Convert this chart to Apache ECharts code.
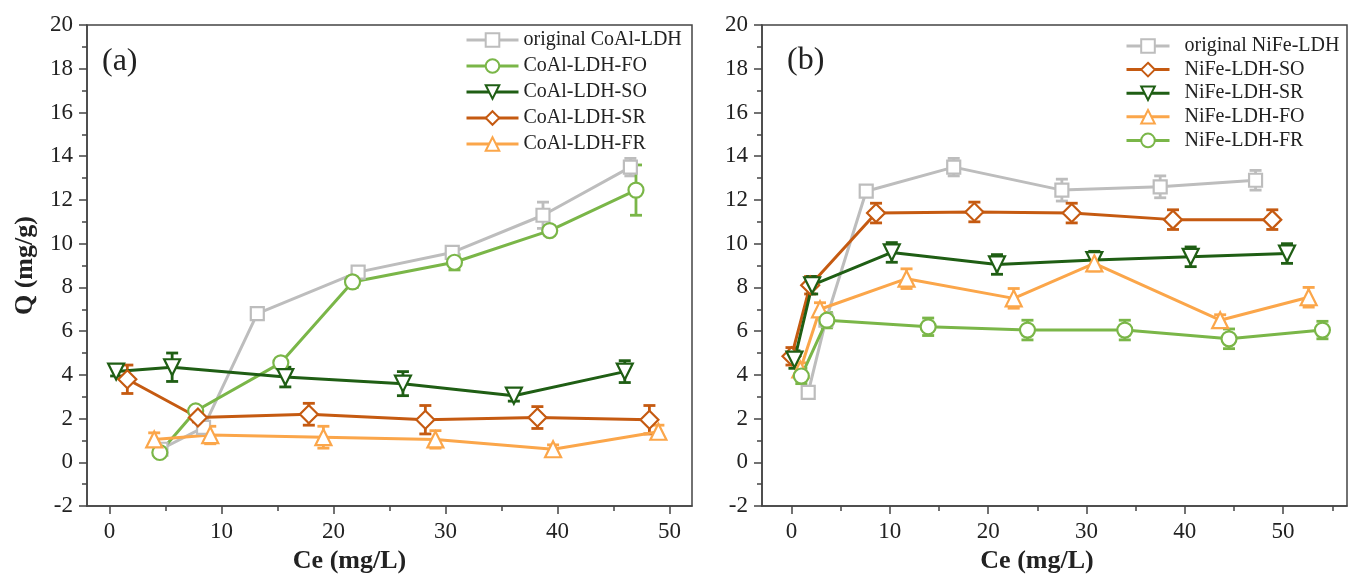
<!DOCTYPE html>
<html><head><meta charset="utf-8">
<script src="https://cdn.jsdelivr.net/npm/echarts@6/dist/echarts.min.js"></script>
<style>html,body{margin:0;padding:0;background:#fff}#c{width:1348px;height:579px}</style>
</head><body><div id="c"></div>
<script>
// ---- data: [Ce, Q, error] ----
const aOriginal = [[4.6,0.6,0.1],[8.4,1.6,0.15],[13.2,6.8,0.15],[22.2,8.7,0.2],[30.6,9.6,0.2],[38.7,11.3,0.6],[46.5,13.5,0.4]];
const aFO = [[4.5,0.45,0.15],[7.7,2.35,0.2],[15.3,4.55,0.2],[21.7,8.25,0.25],[30.8,9.15,0.35],[39.3,10.6,0.2],[47.0,12.45,1.15]];
const aSO = [[0.6,4.15,0.2],[5.6,4.35,0.65],[15.7,3.9,0.45],[26.2,3.6,0.55],[36.1,3.05,0.25],[46.0,4.15,0.5]];
const aSR = [[1.6,3.8,0.65],[7.9,2.05,0.2],[17.8,2.2,0.5],[28.2,1.95,0.65],[38.2,2.05,0.5],[48.2,1.95,0.65]];
const aFR = [[4.0,1.05,0.3],[9.0,1.25,0.4],[19.1,1.15,0.5],[29.1,1.05,0.4],[39.6,0.6,0.2],[49.0,1.4,0.3]];

const bOriginal = [[1.7,3.2,0.15],[3.5,6.5,0.2],[7.6,12.4,0.2],[16.5,13.5,0.4],[27.5,12.45,0.5],[37.5,12.6,0.5],[47.2,12.9,0.45]];
const bSO = [[0,4.85,0.4],[1.9,8.1,0.4],[8.6,11.4,0.45],[18.6,11.45,0.45],[28.5,11.4,0.45],[38.8,11.1,0.45],[48.9,11.1,0.45]];
const bSR = [[0.3,4.7,0.4],[2.1,8.1,0.4],[10.2,9.6,0.45],[20.9,9.05,0.45],[30.8,9.25,0.4],[40.6,9.4,0.45],[50.4,9.55,0.45]];
const bFO = [[0.9,4.25,0.3],[2.9,7.0,0.3],[11.7,8.4,0.45],[22.6,7.5,0.45],[30.8,9.1,0.35],[43.6,6.5,0.25],[52.6,7.55,0.45]];
const bFR = [[1.0,3.95,0.35],[3.6,6.5,0.35],[13.9,6.2,0.4],[24.0,6.05,0.45],[33.9,6.05,0.45],[44.5,5.65,0.45],[54.0,6.05,0.4]];

const xMajorTicks = [0,10,20,30,40,50];
const aMinorX = [5,15,25,35,45];
const bMinorX = [5,15,25,35,45,55];

// ---- styling ----
const C = {gray:'#bdbdbd', lgreen:'#7ab648', dgreen:'#1f5e14', brown:'#c55a11', orange:'#fba64a'};
const SYM = {square:'rect', circle:'circle', down:'path://M0,0L10,0L5,8.66Z', diamond:'diamond', up:'triangle'};
const SERIF = '"Liberation Serif","Times New Roman",serif';
const AX = '#444';

function lineSeries(name, data, color, symbol, size, gi) {
  return {type:'line', name, xAxisIndex: gi*2, yAxisIndex: gi,
    data: data.map(d => [d[0], d[1]]), symbol, symbolSize: size, z: 3,
    lineStyle:{color, width:3}, itemStyle:{color:'#fff', borderColor:color, borderWidth:2.2},
    emphasis:{disabled:true}, animation:false};
}
function errSeries(data, color, gi) {
  return {type:'custom', xAxisIndex: gi*2, yAxisIndex: gi, z: 2, silent: true, animation:false,
    data, encode:{x:0, y:1},
    renderItem(params, api) {
      const x = api.value(0), y = api.value(1), e = api.value(2);
      const t = api.coord([x, y + e]), b = api.coord([x, y - e]);
      const hw = 6, st = {stroke: color, lineWidth: 2.8};
      return {type:'group', children:[
        {type:'line', shape:{x1:t[0], y1:t[1], x2:b[0], y2:b[1]}, style:st},
        {type:'line', shape:{x1:t[0]-hw, y1:t[1], x2:t[0]+hw, y2:t[1]}, style:st},
        {type:'line', shape:{x1:b[0]-hw, y1:b[1], x2:b[0]+hw, y2:b[1]}, style:st}
      ]};
    }};
}
function xAxes(gi, min, max, minor, padRight) {
  return [
    {type:'value', gridIndex: gi, min, max, position:'bottom',
     name:'Ce (mg/L)', nameLocation:'middle', nameGap: 36,
     nameTextStyle:{fontFamily:SERIF, fontSize:26, fontWeight:'bold', color:'#222', padding:[0, padRight, 0, 0]},
     axisLine:{show:true, onZero:false, lineStyle:{color:AX, width:1.5}},
     axisTick:{show:true, inside:false, length:8, customValues: xMajorTicks, lineStyle:{color:AX, width:1.5}},
     axisLabel:{customValues: xMajorTicks, margin:14, fontFamily:SERIF, fontSize:23, color:'#222'},
     splitLine:{show:false}},
    {type:'value', gridIndex: gi, min, max, position:'bottom',
     axisLine:{show:false, onZero:false},
     axisTick:{show:true, inside:false, length:5, customValues: minor, lineStyle:{color:AX, width:1.5}},
     axisLabel:{show:false}, splitLine:{show:false}}
  ];
}
function yAxis(gi, withName) {
  return {type:'value', gridIndex: gi, min:-2, max:20, interval:2,
    name: withName ? 'Q (mg/g)' : '', nameLocation:'middle', nameGap: 49,
    nameTextStyle:{fontFamily:SERIF, fontSize:26, fontWeight:'bold', color:'#222'},
    axisLine:{show:true, onZero:false, lineStyle:{color:AX, width:1.5}},
    axisTick:{show:true, inside:false, length:8, lineStyle:{color:AX, width:1.5}},
    minorTick:{show:true, splitNumber:2, length:5, lineStyle:{color:AX, width:1.5}},
    axisLabel:{margin:14, fontFamily:SERIF, fontSize:23, color:'#222'},
    splitLine:{show:false}, minorSplitLine:{show:false}};
}

const legendText = {fontFamily:SERIF, fontSize:20, color:'#222'};
const option = {
  backgroundColor:'#fff',
  animation:false,
  grid:[
    {left:87, top:25, width:605, height:487, show:true, borderColor:AX, borderWidth:1.5, backgroundColor:'transparent'},
    {left:762, top:25, width:585, height:482, show:true, borderColor:AX, borderWidth:1.5, backgroundColor:'transparent'}
  ],
  xAxis:[...xAxes(0, -2, 52, aMinorX, 80), ...xAxes(1, -3, 56.5, bMinorX, 35)],
  yAxis:[yAxis(0, true), yAxis(1, false)],
  legend:[
    {data:['original CoAl-LDH','CoAl-LDH-FO','CoAl-LDH-SO','CoAl-LDH-SR','CoAl-LDH-FR'],
     orient:'vertical', left:465, top:30, padding:0, itemWidth:52, itemHeight:17, itemGap:6,
     selectedMode:false, textStyle:legendText, lineStyle:{width:3}, itemStyle:{borderWidth:2}},
    {data:['original NiFe-LDH','NiFe-LDH-SO','NiFe-LDH-SR','NiFe-LDH-FO','NiFe-LDH-FR'],
     orient:'vertical', left:1125, top:36, padding:0, itemWidth:43, itemHeight:17, itemGap:3.6,
     selectedMode:false, textStyle:Object.assign({padding:[0,0,0,10]}, legendText), lineStyle:{width:3}, itemStyle:{borderWidth:2}}
  ],
  graphic:[
    {type:'text', left:102, top:46, style:{text:'(a)', font:'32px ' + SERIF, fill:'#222'}},
    {type:'text', left:787, top:45, style:{text:'(b)', font:'32px ' + SERIF, fill:'#222'}}
  ],
  series:[
    errSeries(aOriginal, C.gray, 0), errSeries(aFO, C.lgreen, 0), errSeries(aSO, C.dgreen, 0),
    errSeries(aSR, C.brown, 0), errSeries(aFR, C.orange, 0),
    lineSeries('original CoAl-LDH', aOriginal, C.gray, SYM.square, 13, 0),
    lineSeries('CoAl-LDH-FO', aFO, C.lgreen, SYM.circle, 15, 0),
    lineSeries('CoAl-LDH-SO', aSO, C.dgreen, SYM.down, 16, 0),
    lineSeries('CoAl-LDH-SR', aSR, C.brown, SYM.diamond, 18, 0),
    lineSeries('CoAl-LDH-FR', aFR, C.orange, SYM.up, 16, 0),
    errSeries(bOriginal, C.gray, 1), errSeries(bSO, C.brown, 1), errSeries(bSR, C.dgreen, 1),
    errSeries(bFO, C.orange, 1), errSeries(bFR, C.lgreen, 1),
    lineSeries('original NiFe-LDH', bOriginal, C.gray, SYM.square, 13, 1),
    lineSeries('NiFe-LDH-SO', bSO, C.brown, SYM.diamond, 18, 1),
    lineSeries('NiFe-LDH-SR', bSR, C.dgreen, SYM.down, 16, 1),
    lineSeries('NiFe-LDH-FO', bFO, C.orange, SYM.up, 16, 1),
    lineSeries('NiFe-LDH-FR', bFR, C.lgreen, SYM.circle, 15, 1)
  ]
};
const chart = echarts.init(document.getElementById('c'), null, {renderer:'canvas'});
chart.setOption(option);
</script>
</body></html>
